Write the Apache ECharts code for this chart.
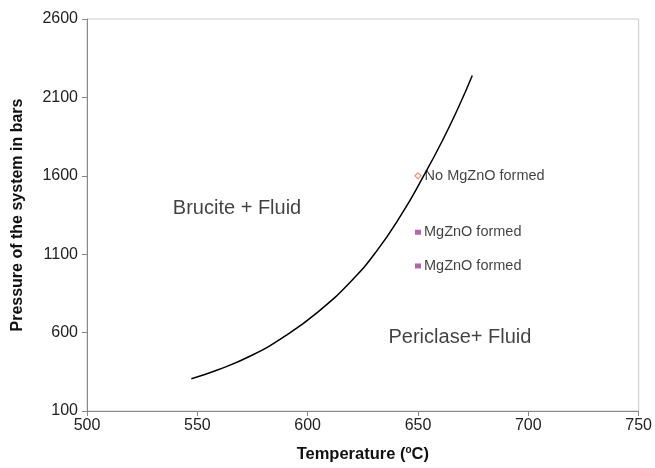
<!DOCTYPE html>
<html><head><meta charset="utf-8">
<script src="https://cdn.jsdelivr.net/npm/echarts@6/dist/echarts.min.js"></script>
<style>html,body{margin:0;padding:0;background:#fff}#c{width:655px;height:468px}</style>
</head><body><div id="c"></div>
<script>
const curveT = [547.3, 559.4, 574.5, 589.5, 604.6, 619.7, 631.0, 643.0, 652.0, 661.1, 668.6, 674.6];
const curveP = [306, 363, 454, 576, 731, 928, 1115, 1365, 1585, 1825, 2045, 2240];
const noFormedT = [650];
const noFormedP = [1600];
const formedT = [650, 650];
const formedP = [1240, 1025];
const regionNames = ['Brucite + Fluid', 'Periclase+ Fluid'];
const regionT = [568, 669];
const regionP = [1393, 569];
const xTicks = [500, 550, 600, 650, 700, 750];
const yTicks = [100, 600, 1100, 1600, 2100, 2600];

const font = '"Liberation Sans", Arial, sans-serif';
const chart = echarts.init(document.getElementById('c'));
chart.setOption({
  animation: false,
  grid: {left: 87, top: 19, right: 15, bottom: 57, show: true, borderColor: '#c8ccd0', borderWidth: 1},
  xAxis: {
    type: 'value', min: xTicks[0], max: xTicks[xTicks.length-1], interval: 50,
    splitLine: {show: false},
    axisLine: {lineStyle: {color: '#888', width: 1}},
    axisTick: {show: true, length: 5, lineStyle: {color: '#888'}},
    axisLabel: {color: '#222', fontFamily: font, fontSize: 16, margin: 7, formatter: v => String(v)},
    name: '{b|Temperature (}{s|o}{b|C)}', nameLocation: 'middle', nameGap: 34,
    nameTextStyle: {rich: {
      b: {fontFamily: font, fontSize: 16.5, fontWeight: 'bold', color: '#111'},
      s: {fontFamily: font, fontSize: 10, fontWeight: 'bold', color: '#111', verticalAlign: 'top', padding: [0,0,8,0]}
    }}
  },
  yAxis: {
    type: 'value', min: yTicks[0], max: yTicks[yTicks.length-1], interval: 500,
    splitLine: {show: false},
    axisLine: {show: true, lineStyle: {color: '#888', width: 1}},
    axisTick: {show: true, length: 5, lineStyle: {color: '#888'}},
    axisLabel: {color: '#222', fontFamily: font, fontSize: 16, margin: 9, formatter: v => String(v)},
    name: 'Pressure of the system in bars', nameLocation: 'middle', nameGap: 61,
    nameTextStyle: {fontFamily: font, fontSize: 16, fontWeight: 'bold', color: '#111'}
  },
  series: [
    {
      type: 'line', smooth: 0.5, symbol: 'none',
      data: curveT.map((t, i) => [t, curveP[i]]),
      lineStyle: {color: '#000', width: 1.5}
    },
    {
      type: 'scatter', symbol: 'diamond', symbolSize: 6,
      data: noFormedT.map((t, i) => [t, noFormedP[i]]),
      itemStyle: {color: '#fff', borderColor: '#f07050', borderWidth: 1.2},
      label: {show: true, position: 'right', distance: 3, formatter: 'No MgZnO formed', color: '#111', fontFamily: font, fontSize: 14.5}
    },
    {
      type: 'scatter', symbol: 'rect', symbolSize: [6, 5],
      data: formedT.map((t, i) => [t, formedP[i]]),
      itemStyle: {color: '#a03c9c'},
      label: {show: true, position: 'right', distance: 3, formatter: 'MgZnO formed', color: '#111', fontFamily: font, fontSize: 14.5}
    },
    {
      type: 'scatter', symbolSize: 0,
      data: regionT.map((t, i) => [t, regionP[i], regionNames[i]]),
      label: {show: true, position: 'inside', formatter: p => p.data[2], color: '#111', fontFamily: font, fontSize: 20}
    }
  ]
});
</script></body></html>
